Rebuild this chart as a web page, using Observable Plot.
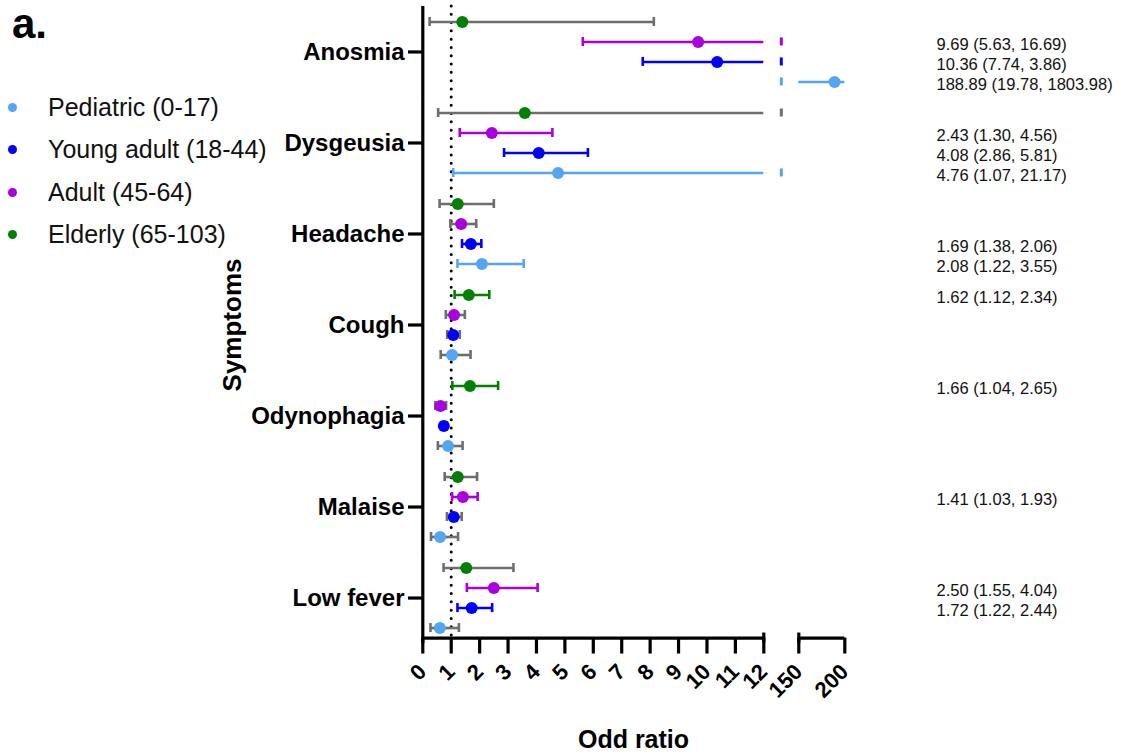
<!DOCTYPE html>
<html>
<head>
<meta charset="utf-8">
<script src="https://cdn.jsdelivr.net/npm/d3@7"></script>
<script src="https://cdn.jsdelivr.net/npm/@observablehq/plot@0.6"></script>
<style>
  html, body { margin: 0; padding: 0; background: #fff; }
  #wrap { position: relative; width: 1121px; height: 755px; font-family: "Liberation Sans", Arial, sans-serif; }
  #panel { position: absolute; left: 12px; top: 3px; font-size: 42px; font-weight: bold; line-height: 42px; }
  #legend { position: absolute; left: 0; top: 86px; }
  .item { height: 42.5px; display: flex; align-items: center; font-size: 25px; line-height: 25px; color: #111; }
  .sw { width: 9px; height: 9px; border-radius: 50%; margin-left: 8px; margin-right: 31px; }
  #chart { position: absolute; left: 0; top: 0; }
</style>
</head>
<body>
<div id="wrap">
  <div id="chart"></div>
  <div id="panel">a.</div>
  <div id="legend"></div>
</div>
<script>
// ---- data ----
const symptoms = ["Anosmia", "Dysgeusia", "Headache", "Cough", "Odynophagia", "Malaise", "Low fever"];
const groups = ["Pediatric (0-17)", "Young adult (18-44)", "Adult (45-64)", "Elderly (65-103)"];
const groupColors = ["#55a5f5", "#0000ff", "#aa00e0", "#038003"];
const nsColor = "#6e6e6e";

const pediatricOR = [188.89, 4.76, 2.08, 1.03, 0.89, 0.61, 0.60];
const pediatricLo = [19.78, 1.07, 1.22, 0.63, 0.53, 0.29, 0.27];
const pediatricHi = [1803.98, 21.17, 3.55, 1.68, 1.40, 1.24, 1.27];

const youngOR = [10.36, 4.08, 1.69, 1.07, 0.74, 1.09, 1.72];
const youngLo = [7.74, 2.86, 1.38, 0.86, 0.64, 0.85, 1.22];
const youngHi = [13.86, 5.81, 2.06, 1.30, 0.85, 1.37, 2.44];

const adultOR = [9.69, 2.43, 1.35, 1.10, 0.62, 1.41, 2.50];
const adultLo = [5.63, 1.30, 0.97, 0.81, 0.44, 1.03, 1.55];
const adultHi = [16.69, 4.56, 1.88, 1.48, 0.82, 1.93, 4.04];

const elderlyOR = [1.39, 3.59, 1.23, 1.62, 1.66, 1.23, 1.53];
const elderlyLo = [0.24, 0.54, 0.59, 1.12, 1.04, 0.77, 0.73];
const elderlyHi = [8.13, 24.0, 2.50, 2.34, 2.65, 1.91, 3.19];

// annotation texts as printed in the figure
const pediatricText = ["188.89 (19.78, 1803.98)", "4.76 (1.07, 21.17)", "2.08 (1.22, 3.55)", null, null, null, null];
const youngText = ["10.36 (7.74, 3.86)", "4.08 (2.86, 5.81)", "1.69 (1.38, 2.06)", null, null, null, "1.72 (1.22, 2.44)"];
const adultText = ["9.69 (5.63, 16.69)", "2.43 (1.30, 4.56)", null, null, null, "1.41 (1.03, 1.93)", "2.50 (1.55, 4.04)"];
const elderlyText = [null, null, null, "1.62 (1.12, 2.34)", "1.66 (1.04, 2.65)", null, null];

// broken x axis: two pieces
const xPieces = [[0, 12], [150, 200]];
const xTicks = [0, 1, 2, 3, 4, 5, 6, 7, 8, 9, 10, 11, 12, 150, 200];
const refValue = 1;

// ---- build table ----
const series = [
  {g: groups[0], c: groupColors[0], or: pediatricOR, lo: pediatricLo, hi: pediatricHi, t: pediatricText},
  {g: groups[1], c: groupColors[1], or: youngOR, lo: youngLo, hi: youngHi, t: youngText},
  {g: groups[2], c: groupColors[2], or: adultOR, lo: adultLo, hi: adultHi, t: adultText},
  {g: groups[3], c: groupColors[3], or: elderlyOR, lo: elderlyLo, hi: elderlyHi, t: elderlyText}
];
const rows = [];
for (const s of series) symptoms.forEach((sym, i) => {
  rows.push({symptom: sym, group: s.g, or: s.or[i], lo: s.lo[i], hi: s.hi[i], text: s.t[i],
    color: s.c, ciColor: s.lo[i] > refValue ? s.c : nsColor});
});

const inPiece = v => xPieces.some(([a, b]) => v >= a && v <= b);
const segments = [], caps = [], breaks = [];
for (const r of rows) {
  for (const [a, b] of xPieces) {
    const x1 = Math.max(r.lo, a), x2 = Math.min(r.hi, b);
    if (x1 < x2) segments.push({...r, x1, x2});
  }
  if (inPiece(r.lo)) caps.push({...r, x: r.lo});
  if (inPiece(r.hi)) caps.push({...r, x: r.hi});
  if (r.hi > xPieces[0][1]) breaks.push({...r, x: (xPieces[0][1] + xPieces[1][0]) / 2});
}
const lastSym = symptoms[symptoms.length - 1];
const axisSegs = xPieces.map(([a, b]) => ({x1: a, x2: b, symptom: lastSym, group: groups[0]}));
const breakEnds = [xPieces[0][1], xPieces[1][0]].map(x => ({x, symptom: lastSym, group: groups[0]}));
const rowOrder = groups.slice().reverse(); // elderly on top

// ---- legend ----
const leg = document.getElementById("legend");
groups.forEach((g, i) => {
  const d = document.createElement("div");
  d.className = "item";
  d.innerHTML = `<span class="sw" style="background:${groupColors[i]}"></span><span>${g}</span>`;
  leg.appendChild(d);
});

// ---- plot ----
const chart = Plot.plot({
  width: 1121,
  height: 755,
  marginLeft: 422,
  marginRight: 277,
  marginTop: 6,
  marginBottom: 112,
  style: {fontFamily: "'Liberation Sans', Arial, sans-serif", color: "#000", background: "transparent", overflow: "visible"},
  x: {type: "linear", domain: [0, 12, 150, 200], range: [422.3, 763.3, 798.3, 844.3], axis: null},
  y: {type: "band", domain: rowOrder, padding: 0, round: false, axis: null},
  fy: {domain: symptoms, paddingInner: 0.121, paddingOuter: 0.06, round: false, axis: null},
  marks: [
    Plot.ruleX([refValue], {stroke: "#000", strokeWidth: 3, strokeDasharray: "0 8.3", strokeLinecap: "round", insetTop: -5.5, insetBottom: -5.5}),
    Plot.ruleX([0], {stroke: "#000", strokeWidth: 3.2, insetTop: -5.5, insetBottom: -5.5}),
    Plot.ruleY(axisSegs, {fy: "symptom", y: "group", x1: "x1", x2: "x2", dy: 10, stroke: "#000", strokeWidth: 3.2}),
    Plot.tickX(breakEnds, {fy: "symptom", y: "group", x: "x", dy: 10, insetTop: 5, insetBottom: 5, stroke: "#000", strokeWidth: 3.2}),
    Plot.axisX({ticks: xTicks, tickSize: 16, strokeWidth: 3.2, tickRotate: -45, tickPadding: 14, fontSize: 22, fontWeight: "bold",
      tickFormat: d => String(d), label: null}),
    Plot.axisX({ticks: [], label: "Odd ratio", labelAnchor: "center", labelArrow: "none", labelOffset: 110, fontSize: 25, fontWeight: "bold"}),
    Plot.axisFy({anchor: "left", tickSize: 14, strokeWidth: 3.2, tickPadding: 4, fontSize: 24, fontWeight: "bold", label: null}),
    Plot.axisFy({anchor: "left", ticks: [], label: "Symptoms", labelAnchor: "center", labelOffset: 200, fontSize: 26, fontWeight: "bold"}),
    Plot.ruleY(segments, {fy: "symptom", y: "group", x1: "x1", x2: "x2", stroke: "ciColor", strokeWidth: 2.6}),
    Plot.tickX(caps, {fy: "symptom", y: "group", x: "x", stroke: "ciColor", strokeWidth: 2.6, insetTop: 5.5, insetBottom: 5.5}),
    Plot.tickX(breaks, {fy: "symptom", y: "group", x: "x", stroke: "ciColor", strokeWidth: 3, insetTop: 6, insetBottom: 6}),
    Plot.dot(rows, {fy: "symptom", y: "group", x: "or", fill: "color", r: 6}),
    Plot.text(rows.filter(r => r.text), {fy: "symptom", y: "group", text: "text", frameAnchor: "right", textAnchor: "start",
      dx: 92, dy: 3, fontSize: 16.5, fill: "#111"})
  ]
});
document.getElementById("chart").appendChild(chart);
</script>
</body>
</html>
